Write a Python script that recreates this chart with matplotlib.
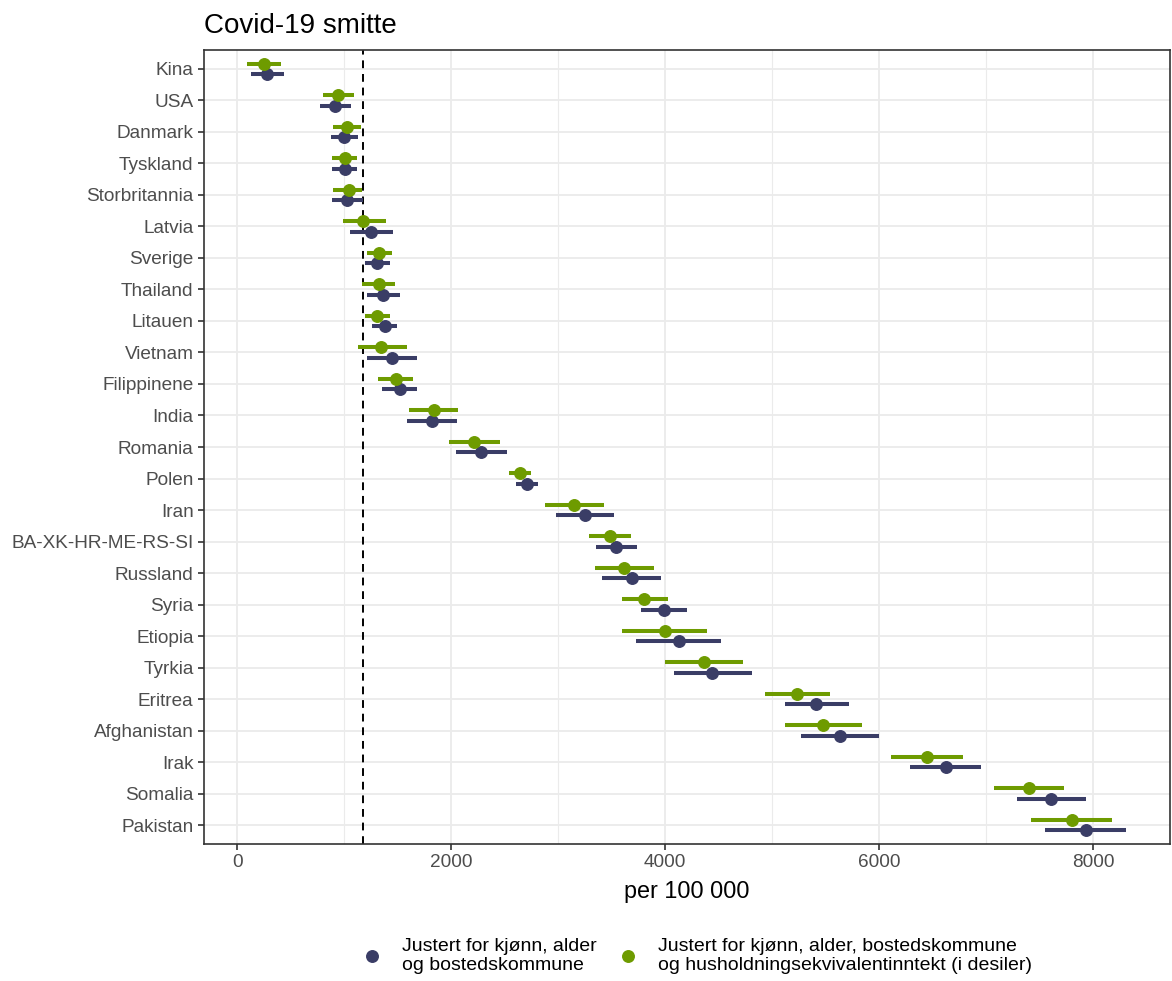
import matplotlib
matplotlib.use("Agg")
import matplotlib.pyplot as plt
from matplotlib.lines import Line2D
from matplotlib.ticker import MultipleLocator

plt.rcParams['font.family'] = ['Liberation Sans', 'DejaVu Sans']

# countries, top to bottom
countries = ["Kina", "USA", "Danmark", "Tyskland", "Storbritannia", "Latvia", "Sverige",
             "Thailand", "Litauen", "Vietnam", "Filippinene", "India", "Romania", "Polen",
             "Iran", "BA-XK-HR-ME-RS-SI", "Russland", "Syria", "Etiopia", "Tyrkia",
             "Eritrea", "Afghanistan", "Irak", "Somalia", "Pakistan"]

# adjusted for sex, age and municipality
blue_est = [283, 916, 1003, 1006, 1025, 1252, 1311, 1364, 1380, 1446, 1523, 1820, 2283, 2710,
            3250, 3545, 3692, 3994, 4128, 4442, 5411, 5636, 6623, 7608, 7932]
blue_lo = [131, 776, 879, 891, 882, 1056, 1193, 1212, 1265, 1218, 1358, 1592, 2044, 2608,
           2978, 3352, 3411, 3779, 3729, 4087, 5119, 5274, 6290, 7290, 7552]
blue_hi = [439, 1065, 1133, 1124, 1175, 1458, 1427, 1521, 1495, 1680, 1685, 2053, 2521, 2813,
           3526, 3741, 3966, 4206, 4527, 4810, 5723, 5997, 6956, 7937, 8309]

# also adjusted for household income deciles
green_est = [252, 941, 1025, 1006, 1041, 1180, 1330, 1327, 1308, 1349, 1483, 1838, 2218, 2645,
             3147, 3483, 3620, 3804, 3997, 4361, 5231, 5477, 6452, 7399, 7801]
green_lo = [93, 801, 900, 891, 900, 991, 1212, 1171, 1196, 1125, 1321, 1608, 1984, 2545,
            2876, 3290, 3346, 3595, 3601, 4003, 4937, 5124, 6115, 7075, 7424]
green_hi = [411, 1091, 1156, 1124, 1171, 1395, 1446, 1480, 1427, 1589, 1645, 2068, 2461, 2748,
            3427, 3680, 3897, 4025, 4396, 4729, 5539, 5841, 6788, 7726, 8175]

reference = 1180

blue = "#3a3d66"
green = "#6e9b00"
grid = "#ebebeb"

fig = plt.figure(figsize=(11.72, 9.81), dpi=100)
ax = fig.add_axes([204 / 1172, 1 - 844 / 981, 966 / 1172, 794 / 981])

ax.set_xlim(-310, 8720)
ax.set_ylim(len(countries) - 0.4, -0.6)
ax.xaxis.set_major_locator(MultipleLocator(2000))
ax.xaxis.set_minor_locator(MultipleLocator(1000))
ax.set_yticks(range(len(countries)))
ax.set_yticklabels(countries)

ax.grid(which='major', color=grid, linewidth=1.3, zorder=0)
ax.grid(which='minor', axis='x', color=grid, linewidth=0.8, zorder=0)
ax.set_axisbelow(True)

dodge = 0.17
for i in range(len(countries)):
    yb = i + dodge
    yg = i - dodge
    ax.plot([blue_lo[i], blue_hi[i]], [yb, yb], color=blue, lw=2.9, solid_capstyle='butt', zorder=3)
    ax.plot([green_lo[i], green_hi[i]], [yg, yg], color=green, lw=2.9, solid_capstyle='butt', zorder=3)
ax.plot(blue_est, [i + dodge for i in range(len(countries))], 'o', color=blue, ms=8.3, zorder=4)
ax.plot(green_est, [i - dodge for i in range(len(countries))], 'o', color=green, ms=8.3, zorder=4)

ax.axvline(reference, color='black', linestyle=(0, (4, 3)), linewidth=1.4, zorder=2)

for s in ax.spines.values():
    s.set_color('#333333')
    s.set_linewidth(1.2)
ax.tick_params(which='major', length=4, width=1.2, color='#333333', labelcolor='#4d4d4d', labelsize=13.7)
ax.tick_params(which='minor', length=0)

ax.set_xlabel("per 100 000", fontsize=16.8, color='black', labelpad=6)
fig.text(204 / 1172, 1 - 33 / 981, "Covid-19 smitte", fontsize=20, ha='left', va='baseline')

handles = [
    Line2D([], [], marker='o', linestyle='', color=blue, ms=8.3),
    Line2D([], [], marker='o', linestyle='', color=green, ms=8.3),
]
labels = ["Justert for kjønn, alder\nog bostedskommune",
          "Justert for kjønn, alder, bostedskommune\nog husholdningsekvivalentinntekt (i desiler)"]
leg = fig.legend(handles, labels, loc='center', bbox_to_anchor=(0.594, 1 - 956 / 981), ncol=2,
                 frameon=False, fontsize=14, handletextpad=0.93, columnspacing=1.0,
                 handlelength=1.2)
for t in leg.get_texts():
    t.set_linespacing(1.15)

fig.savefig("out.png", dpi=100)
